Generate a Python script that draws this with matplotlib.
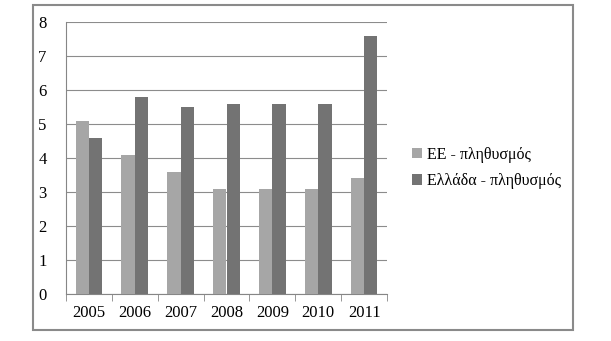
import matplotlib
matplotlib.use("Agg")
import matplotlib.pyplot as plt
from matplotlib.patches import Rectangle
import numpy as np

years = ["2005", "2006", "2007", "2008", "2009", "2010", "2011"]
ee_values = [5.1, 4.1, 3.6, 3.1, 3.1, 3.1, 3.4]
gr_values = [4.6, 5.8, 5.5, 5.6, 5.6, 5.6, 7.6]
series_names = ["ΕΕ - πληθυσμός", "Ελλάδα - πληθυσμός"]

plt.rcParams["font.family"] = ["Liberation Serif", "DejaVu Serif"]

W, H = 611, 341
fig = plt.figure(figsize=(W / 100, H / 100), dpi=100)
ax = fig.add_axes([66 / W, 1 - 294 / H, (387 - 66) / W, (294 - 22) / H])

x = np.arange(len(years))
bw = 0.29
ax.bar(x - bw / 2, ee_values, width=bw, color="#a6a6a6", label=series_names[0], zorder=3)
ax.bar(x + bw / 2, gr_values, width=bw, color="#737373", label=series_names[1], zorder=3)

ax.set_xlim(-0.5, len(years) - 0.5)
ax.set_ylim(0, 8)
ax.set_yticks(range(0, 9))
ax.yaxis.grid(True, color="#8c8c8c", linewidth=0.8, zorder=0)
ax.tick_params(axis="y", length=0, labelsize=12, pad=14)

ax.set_xticks(x)
ax.set_xticklabels(years, fontsize=12)
ax.set_xticks(np.arange(-0.5, len(years), 1), minor=True)
ax.tick_params(axis="x", which="major", length=0, pad=8)
ax.tick_params(axis="x", which="minor", length=5, color="#868686", direction="out")

for side in ["top", "right"]:
    ax.spines[side].set_visible(False)
ax.spines["left"].set_color("#868686")
ax.spines["bottom"].set_color("#868686")

handles, labels = ax.get_legend_handles_labels()
fig.legend(handles, labels, loc="center left", bbox_to_anchor=(398 / W, 1 - 168 / H),
           frameon=False, fontsize=11.5, handlelength=0.6, handleheight=0.6,
           handletextpad=0.3, labelspacing=0.65)

fig.add_artist(Rectangle((33 / W, 1 - 330 / H), (573 - 33) / W, (330 - 5) / H,
                         transform=fig.transFigure, fill=False,
                         edgecolor="#8a8a8a", linewidth=1.5))

fig.savefig("out.png", dpi=100)
